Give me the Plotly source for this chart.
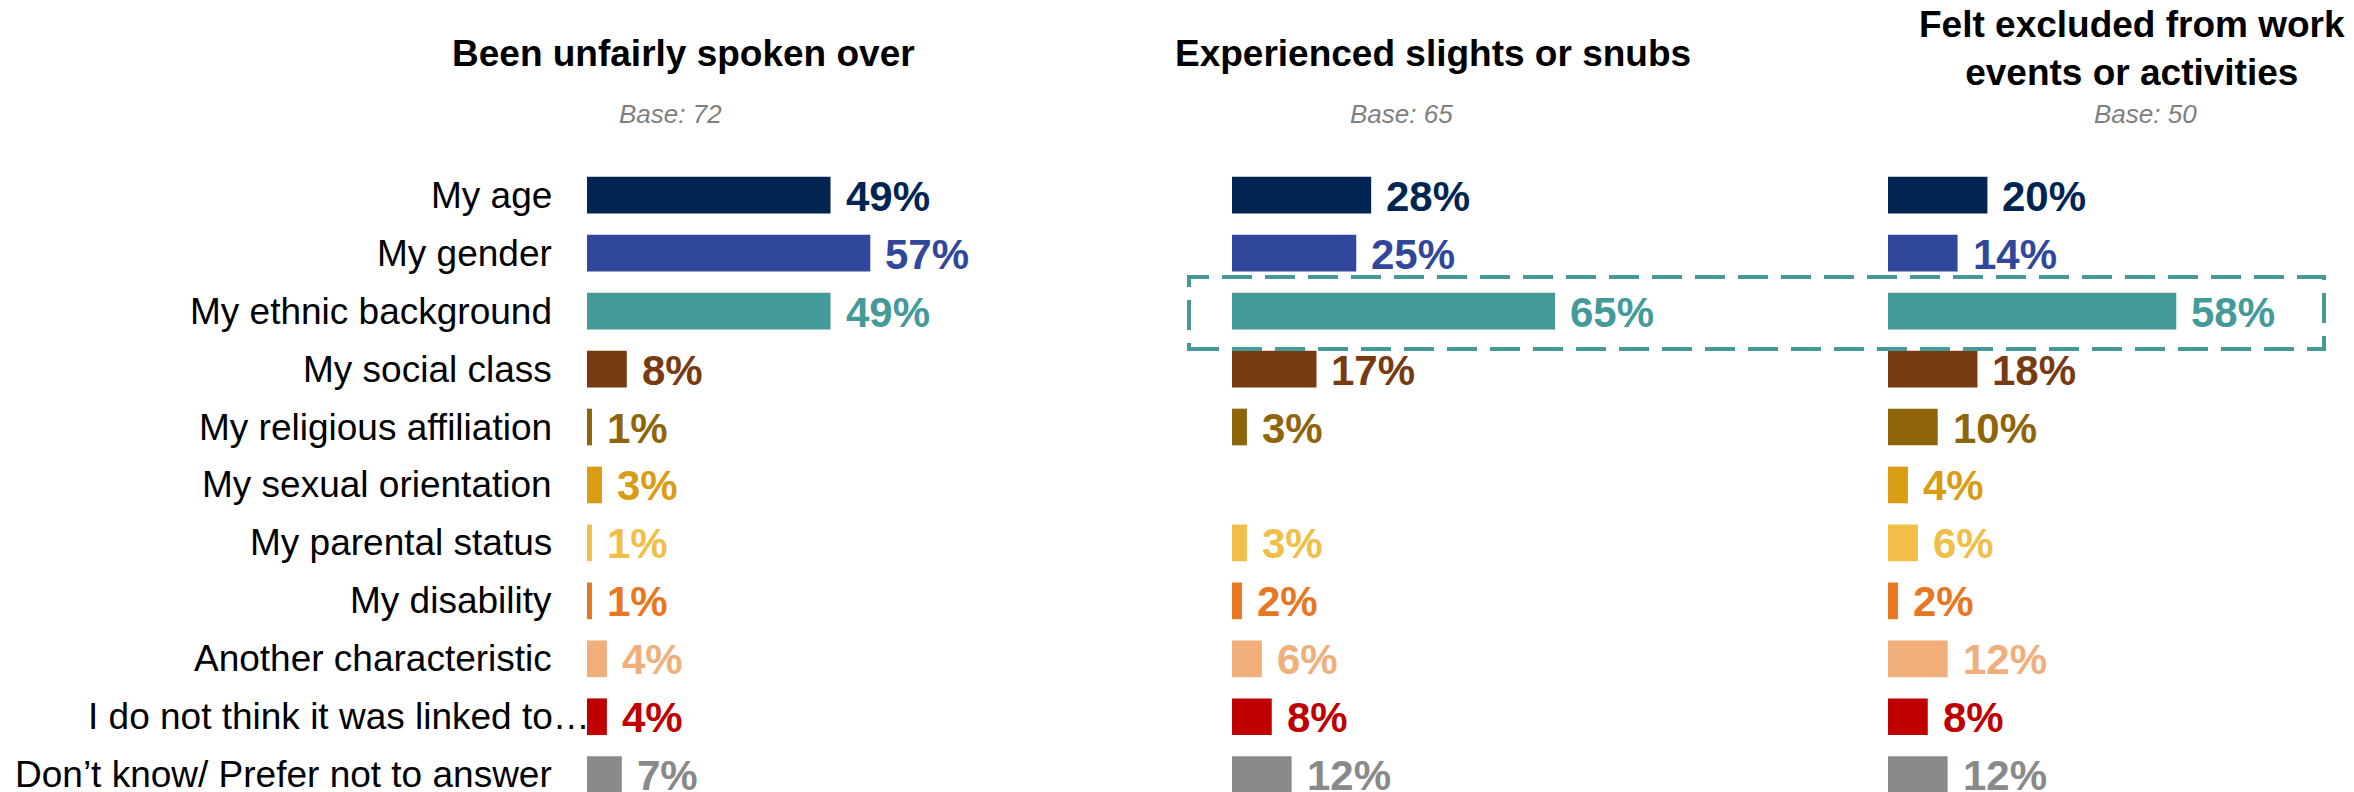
import plotly.graph_objects as go

# Categories (top to bottom)
categories = [
    "My age",
    "My gender",
    "My ethnic background",
    "My social class",
    "My religious affiliation",
    "My sexual orientation",
    "My parental status",
    "My disability",
    "Another characteristic",
    "I do not think it was linked to…",
    "Don’t know/ Prefer not to answer",
]

# Panel titles and bases
panel_titles = [
    "Been unfairly spoken over",
    "Experienced slights or snubs",
    "Felt excluded from work<br>events or activities",
]
panel_bases = ["Base: 72", "Base: 65", "Base: 50"]

# Percentages per panel (None = not shown)
spoken_over = [49, 57, 49, 8, 1, 3, 1, 1, 4, 4, 7]
slights_snubs = [28, 25, 65, 17, 3, None, 3, 2, 6, 8, 12]
excluded = [20, 14, 58, 18, 10, 4, 6, 2, 12, 8, 12]

colors = [
    "#012553", "#31479c", "#439a99", "#783a10", "#8e6609", "#d99c12",
    "#f1be48", "#e87722", "#f0ae7a", "#c00000", "#898989",
]

W, H = 2354, 792
FONT = "Liberation Sans, Arial, sans-serif"

# pixel geometry of each panel: bar origin and pixels per percent
panel_x0 = [587, 1232, 1888]
px_per_pct = 4.97
x_span = 70
title_x = [683, 1433, 2132]
title_y = [53, 53, 49]
base_x = [670, 1401, 2145]
base_y = 114

# y geometry: row centres at 195 px and 58 px per row
row0, row_step = 195.2, 57.95
y_top = -row0 / row_step
y_bot = y_top + H / row_step

series = [spoken_over, slights_snubs, excluded]
fig = go.Figure()
ypos = list(range(len(categories)))

layout_axes = {}
annotations = []
for p, vals in enumerate(series):
    axname = "x" if p == 0 else f"x{p + 1}"
    layout_key = "xaxis" if p == 0 else f"xaxis{p + 1}"
    d0 = panel_x0[p] / W
    d1 = (panel_x0[p] + px_per_pct * x_span) / W
    layout_axes[layout_key] = dict(
        domain=[d0, d1], range=[0, x_span], visible=False,
        showgrid=False, zeroline=False, anchor="y", fixedrange=True,
    )
    fig.add_trace(go.Bar(
        x=vals, y=ypos, orientation="h", width=0.633,
        marker=dict(color=colors, line=dict(width=0)),
        xaxis=axname, yaxis="y", showlegend=False, hoverinfo="skip",
    ))
    for i, v in enumerate(vals):
        if v is None:
            continue
        annotations.append(dict(
            x=v, y=i, xref=axname, yref="y", text=f"<b>{v}%</b>",
            showarrow=False, xanchor="left", yanchor="middle", xshift=13,
            yshift=-1,
            font=dict(family=FONT, size=42, color=colors[i]),
        ))
    annotations.append(dict(
        x=title_x[p] / W, y=1 - title_y[p] / H, xref="paper", yref="paper",
        text=f"<b>{panel_titles[p]}</b>", showarrow=False,
        xanchor="center", yanchor="middle",
        font=dict(family=FONT, size=37, color="#000000"),
    ))
    annotations.append(dict(
        x=base_x[p] / W, y=1 - base_y / H, xref="paper", yref="paper",
        text=f"<i>{panel_bases[p]}</i>", showarrow=False,
        xanchor="center", yanchor="middle",
        font=dict(family=FONT, size=26, color="#7f7f7f"),
    ))

# category labels, right aligned left of the first panel
for i, c in enumerate(categories):
    annotations.append(dict(
        x=554 / W, y=i, xref="paper", yref="y", text=c, showarrow=False,
        xanchor="right", yanchor="middle",
        xshift=38 if c.endswith("…") else 0,
        font=dict(family=FONT, size=37, color="#000000"),
    ))

# dashed highlight box around the ethnic background row
shapes = [dict(
    type="rect", xref="paper", yref="paper",
    x0=1189 / W, x1=2324 / W, y0=1 - 349 / H, y1=1 - 277 / H,
    line=dict(color="#439a99", width=4, dash="30px,13px"),
    fillcolor="rgba(0,0,0,0)",
)]

fig.update_layout(
    width=W, height=H,
    margin=dict(l=0, r=0, t=0, b=0),
    paper_bgcolor="white", plot_bgcolor="white",
    yaxis=dict(range=[y_bot, y_top], visible=False, showgrid=False,
               zeroline=False, domain=[0, 1], fixedrange=True),
    annotations=annotations,
    shapes=shapes,
    barmode="overlay",
    **layout_axes,
)

fig.write_html("out.html")
